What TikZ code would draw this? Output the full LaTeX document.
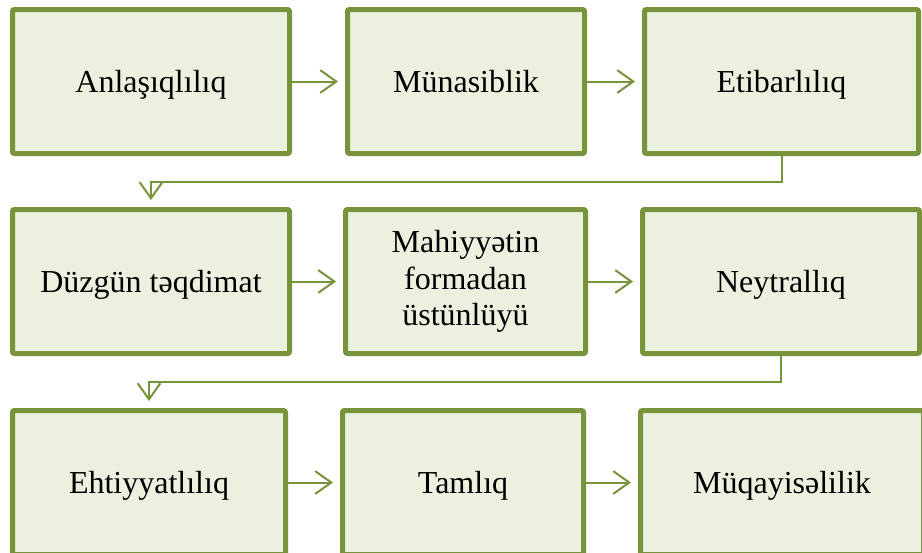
\documentclass[tikz,border=0pt]{standalone}
\usepackage{fontspec}
\setmainfont{Liberation Serif}
\usetikzlibrary{arrows.meta}
\definecolor{boxline}{HTML}{77933C}
\definecolor{boxfill}{HTML}{EBF1DE}
\tikzset{
  stepbox/.style={draw=boxline, fill=boxfill, line width=3.75pt,
    rounded corners=1.5pt, inner sep=0pt, align=center,
    minimum height=144*0.75pt,
    font=\fontsize{24}{27.4}\selectfont,
    % full line box (ascent + descent) so lines sit centred like the font's line
    execute at begin node={\rule{0pt}{0.891em}},
    execute at end node={\rule[-0.216em]{0pt}{0.216em}}},
  conn/.style={draw=boxline, line width=1.5pt,
    -{Straight Barb[length=12pt,width=17pt]}, shorten >=5.25pt},
}
\begin{document}
\begin{tikzpicture}[x=0.75pt, y=-0.75pt]
\clip (0,0) rectangle (922,553);
\fill[white] (0,0) rectangle (922,553);
% first row
\node[stepbox, minimum width=277*0.75pt] (A) at (151,81.5) {Anlaşıqlılıq};
\node[stepbox, minimum width=237*0.75pt] (B) at (466,81.5) {Münasiblik};
\node[stepbox, minimum width=274*0.75pt] (C) at (781.5,81.5) {Etibarlılıq};
% second row
\node[stepbox, minimum width=277*0.75pt] (D) at (151,281.5) {Düzgün təqdimat};
\node[stepbox, minimum width=240*0.75pt] (E) at (465.5,281.5) {Mahiyyətin\\formadan\\üstünlüyü};
\node[stepbox, minimum width=277*0.75pt] (F) at (781,281.5) {Neytrallıq};
% third row
\node[stepbox, minimum width=273*0.75pt] (G) at (149,482.5) {Ehtiyyatlılıq};
\node[stepbox, minimum width=241*0.75pt] (H) at (463,482.5) {Tamlıq};
\node[stepbox, minimum width=283*0.75pt] (I) at (782,482.5) {Müqayisəlilik};
% connectors
\draw[conn] (A) -- (B);
\draw[conn] (B) -- (C);
\draw[conn] (D) -- (E);
\draw[conn] (E) -- (F);
\draw[conn] (G) -- (H);
\draw[conn] (H) -- (I);
\coordinate (k1) at (0,182);
\coordinate (k2) at (0,382);
\draw[conn] (C.south) -- (C.south |- k1) -| (D.north);
\draw[conn] (F.south) -- (F.south |- k2) -| (G.north);
\end{tikzpicture}
\end{document}
